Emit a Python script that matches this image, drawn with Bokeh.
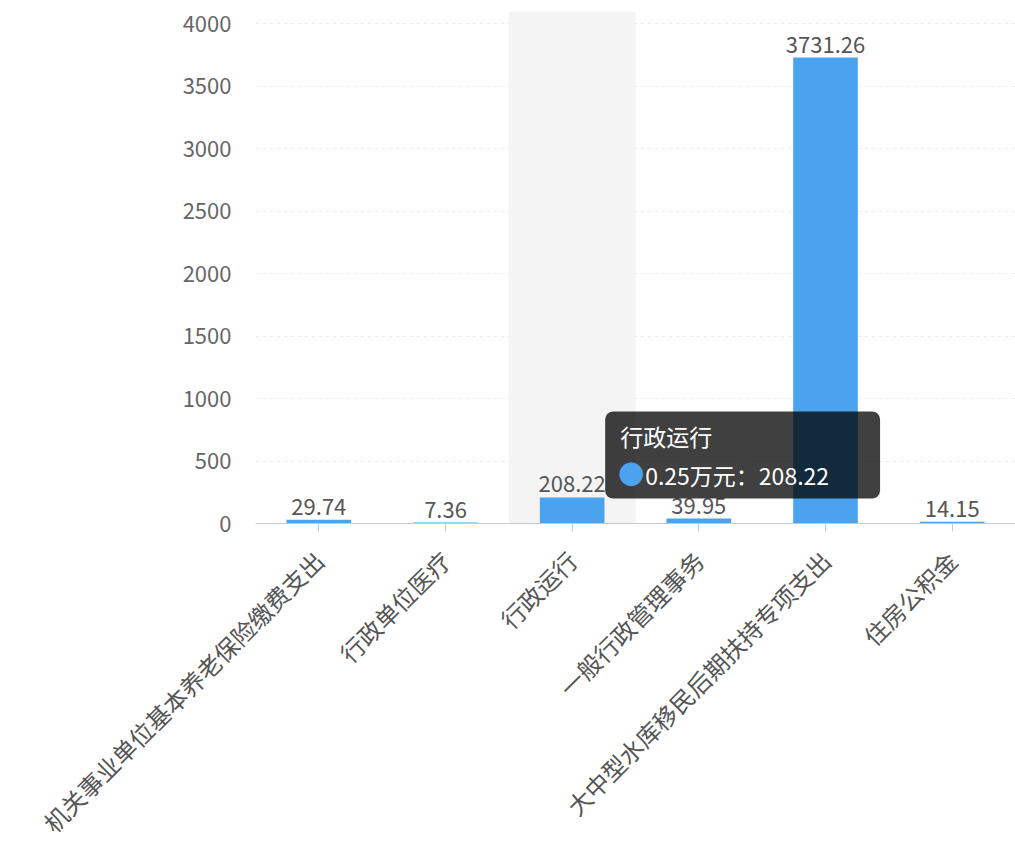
import math
from bokeh.plotting import figure
from bokeh.models import ColumnDataSource, FixedTicker, Range1d, FactorRange
from bokeh.core.properties import value
from bokeh.embed import file_html
from bokeh.resources import INLINE

categories = ["机关事业单位基本养老保险缴费支出", "行政单位医疗", "行政运行",
              "一般行政管理事务", "大中型水库移民后期扶持专项支出", "住房公积金"]
amounts = [29.74, 7.36, 208.22, 39.95, 3731.26, 14.15]
y_ticks = [0, 500, 1000, 1500, 2000, 2500, 3000, 3500, 4000]
series_name = "0.25万元"
hover_category = "行政运行"
hover_value = amounts[categories.index(hover_category)]

FONT = "Noto Sans CJK SC"
BAR = "#4ba3ee"
Y_END = 4100

p = figure(x_range=FactorRange(*categories), y_range=Range1d(0, Y_END),
           width=1015, height=856, output_backend="svg", toolbar_location=None,
           min_border_left=255, min_border_right=0, min_border_top=11,
           min_border_bottom=333)
p.outline_line_color = None
p.background_fill_color = "white"
p.border_fill_color = "white"

# hover shadow band
p.vbar(x=[hover_category], top=[Y_END], bottom=0, width=1.0,
       fill_color="#f4f4f4", line_color=None)

src = ColumnDataSource(dict(cat=categories, amt=amounts,
                            lbl=[f"{v:.2f}" for v in amounts]))
p.vbar(x="cat", top="amt", width=0.51, source=src, fill_color=BAR, line_color=None)
p.text(x="cat", y="amt", text="lbl", source=src, y_offset=-5,
       text_align="center", text_baseline="bottom", text_color="#555555",
       text_font=value(FONT), text_font_size="22px")

# axes
p.yaxis.ticker = FixedTicker(ticks=y_ticks)
p.yaxis.axis_line_color = None
p.yaxis.major_tick_line_color = None
p.yaxis.minor_tick_line_color = None
p.yaxis.major_label_text_color = "#666666"
p.yaxis.major_label_text_font = FONT
p.yaxis.major_label_text_font_size = "22px"
p.yaxis.major_label_standoff = 18

p.xaxis.axis_line_color = "#c3cad4"
p.xaxis.major_tick_line_color = "#c3cad4"
p.xaxis.major_tick_out = 8
p.xaxis.major_tick_in = 0
p.xaxis.minor_tick_line_color = None
p.xaxis.major_label_orientation = math.pi / 4
p.xaxis.major_label_text_color = "#555555"
p.xaxis.major_label_text_font = FONT
p.xaxis.major_label_text_font_size = "24px"
p.xaxis.major_label_standoff = 24

p.xgrid.grid_line_color = None
p.ygrid.grid_line_color = "#ececec"
p.ygrid.grid_line_dash = "4 3"

# tooltip (static)
tip = ColumnDataSource(dict(x=[hover_category], y=[hover_value],
                            title=[hover_category],
                            line=[f"{series_name}：{hover_value:.2f}"],
                            dot=["●"]))
p.text(x="x", y="y", text="line", source=tip, x_offset=33, y_offset=-86,
       text_align="left", text_baseline="top", text_color="white",
       text_font=value(FONT), text_font_size="23px",
       background_fill_color="black", background_fill_alpha=0.75,
       border_radius=8,
       padding=dict(left=40, right=51, top=47, bottom=6))
p.text(x="x", y="y", text="title", source=tip, x_offset=48, y_offset=-61,
       text_align="left", text_baseline="middle", text_color="white",
       text_font=value(FONT), text_font_size="23px")
p.text(x="x", y="y", text="dot", source=tip, x_offset=59, y_offset=-25,
       text_align="center", text_baseline="middle", text_color=BAR,
       text_font=value(FONT), text_font_size="26px")

open("out.html", "w").write(file_html(p, INLINE))
